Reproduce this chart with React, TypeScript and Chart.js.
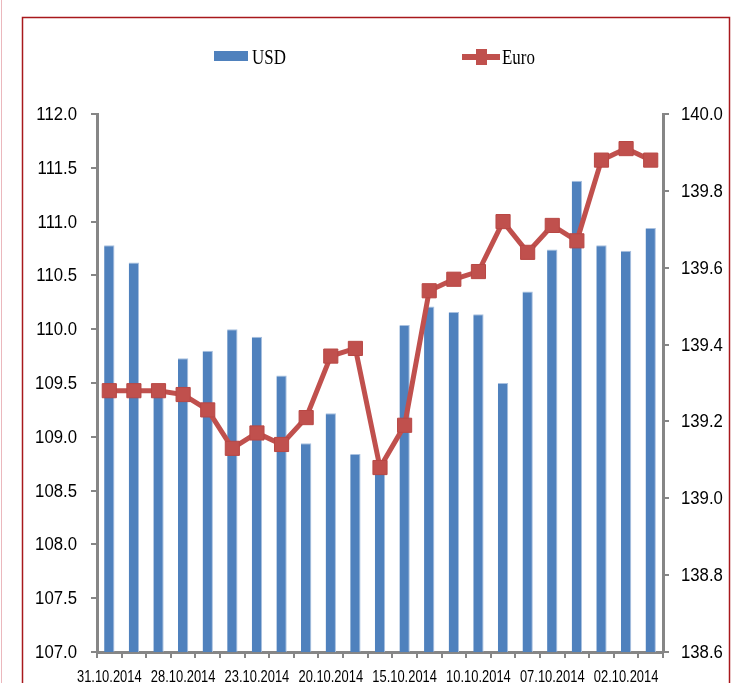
import React, { useEffect, useRef } from "react";
import { Chart, registerables } from "chart.js";

Chart.register(...registerables);

const dates = [
  "31.10.2014", "30.10.2014", "29.10.2014", "28.10.2014", "27.10.2014",
  "24.10.2014", "23.10.2014", "22.10.2014", "21.10.2014", "20.10.2014",
  "17.10.2014", "16.10.2014", "15.10.2014", "14.10.2014", "13.10.2014",
  "10.10.2014", "09.10.2014", "08.10.2014", "07.10.2014", "06.10.2014",
  "03.10.2014", "02.10.2014", "01.10.2014",
];

const usdValues = [
  110.78, 110.62, 109.45, 109.73, 109.8, 110.0, 109.93, 109.57, 108.94, 109.22,
  108.84, 108.7, 110.04, 110.21, 110.16, 110.14, 109.5, 110.35, 110.74, 111.38,
  110.78, 110.73, 110.94,
];

const euroValues = [
  139.28, 139.28, 139.28, 139.27, 139.23, 139.13, 139.17, 139.14, 139.21, 139.37,
  139.39, 139.08, 139.19, 139.54, 139.57, 139.59, 139.72, 139.64, 139.71, 139.67,
  139.88, 139.91, 139.88,
];

const seriesNames = ["USD", "Euro"];

const BLUE = "#4F81BD";
const RED = "#C0504D";
const AXIS = "#868686";
const SANS = "'Liberation Sans', Arial, sans-serif";
const SERIF = "'Liberation Serif', 'DejaVu Serif', serif";

function drawScaled(ctx: CanvasRenderingContext2D, text: string, x: number, y: number, sx: number, align: CanvasTextAlign) {
  ctx.save();
  ctx.translate(x, y);
  ctx.scale(sx, 1);
  ctx.textAlign = align;
  ctx.fillText(text, 0, 0);
  ctx.restore();
}

const framePlugin = {
  id: "frame",
  beforeDraw(chart: any) {
    const ctx = chart.ctx;
    ctx.save();
    ctx.fillStyle = "#ffffff";
    ctx.fillRect(0, 0, chart.width, chart.height);
    ctx.strokeStyle = "#EBB8BD";
    ctx.lineWidth = 1;
    ctx.beginPath();
    ctx.moveTo(1.5, 0);
    ctx.lineTo(1.5, chart.height);
    ctx.stroke();
    ctx.strokeStyle = "#A8181C";
    ctx.lineWidth = 1.5;
    ctx.strokeRect(22.5, 17.5, 707, chart.height + 20);
    ctx.restore();
  },
  afterDraw(chart: any) {
    const ctx: CanvasRenderingContext2D = chart.ctx;
    ctx.save();
    ctx.fillStyle = "#000";

    // tick labels
    const ys = chart.scales.y;
    const y1s = chart.scales.y1;
    const xs = chart.scales.x;
    ctx.font = `18px ${SANS}`;
    ctx.textBaseline = "middle";
    ys.ticks.forEach((t: any) => {
      drawScaled(ctx, Number(t.value).toFixed(1), 77, ys.getPixelForValue(t.value) + 1, 0.93, "right");
    });
    y1s.ticks.forEach((t: any) => {
      drawScaled(ctx, Number(t.value).toFixed(1), 681, y1s.getPixelForValue(t.value) + 1, 0.93, "left");
    });
    ctx.font = `17px ${SANS}`;
    ctx.textBaseline = "top";
    dates.forEach((d, i) => {
      if (i % 3 === 0) drawScaled(ctx, d, xs.getPixelForValue(i), 669, 0.76, "center");
    });

    // legend
    ctx.fillStyle = BLUE;
    ctx.fillRect(214, 51, 34, 10);
    ctx.strokeStyle = RED;
    ctx.lineWidth = 6;
    ctx.beginPath();
    ctx.moveTo(462, 57);
    ctx.lineTo(500, 57);
    ctx.stroke();
    ctx.fillStyle = RED;
    ctx.fillRect(476, 49, 11, 16);
    ctx.fillStyle = "#000";
    ctx.font = `22px ${SERIF}`;
    ctx.textBaseline = "alphabetic";
    drawScaled(ctx, seriesNames[0], 252, 64, 0.77, "left");
    drawScaled(ctx, seriesNames[1], 502, 64, 0.77, "left");
    ctx.restore();
  },
};

export default function App() {
  const ref = useRef<HTMLCanvasElement>(null);

  useEffect(() => {
    if (!ref.current) return;
    const hidden = "rgba(0,0,0,0)";
    const chart = new Chart(ref.current, {
      type: "bar",
      data: {
        labels: dates,
        datasets: [
          {
            type: "line",
            label: seriesNames[1],
            data: euroValues,
            yAxisID: "y1",
            borderColor: RED,
            borderWidth: 5,
            pointStyle: "rect",
            pointRadius: 10,
            pointBackgroundColor: RED,
            pointBorderColor: "#B84744",
            pointBorderWidth: 1,
            order: 0,
          } as any,
          {
            type: "bar",
            label: seriesNames[0],
            data: usdValues,
            yAxisID: "y",
            backgroundColor: BLUE,
            borderColor: "#A9C1E0",
            borderWidth: { left: 0, right: 1, top: 1, bottom: 0 },
            barPercentage: 0.42,
            categoryPercentage: 1,
            order: 1,
          } as any,
        ],
      },
      options: {
        responsive: false,
        animation: false,
        devicePixelRatio: 1,
        layout: { padding: { top: 114, left: 0, right: 0, bottom: 0 } },
        plugins: { legend: { display: false }, tooltip: { enabled: false } },
        scales: {
          x: {
            offset: true,
            grid: {
              offset: true,
              drawOnChartArea: false,
              tickLength: 6,
              color: AXIS,
              lineWidth: 2,
            },
            border: { display: true, color: AXIS, width: 3 },
            ticks: {
              autoSkip: false,
              maxRotation: 0,
              minRotation: 0,
              color: hidden,
              font: { size: 10 },
              callback: (_v: any, i: number) => (i % 3 === 0 ? dates[i] : ""),
            },
            afterFit: (s: any) => {
              s.height = 48;
            },
          },
          y: {
            position: "left",
            min: 107,
            max: 112,
            grid: { drawOnChartArea: false, tickLength: 6, color: AXIS, lineWidth: 2 },
            border: { display: true, color: AXIS, width: 3 },
            ticks: {
              stepSize: 0.5,
              color: hidden,
              callback: (v: any) => Number(v).toFixed(1),
            },
            afterFit: (s: any) => {
              s.width = 97;
            },
          },
          y1: {
            position: "right",
            min: 138.6,
            max: 140.0,
            grid: { drawOnChartArea: false, tickLength: 6, color: AXIS, lineWidth: 2 },
            border: { display: true, color: AXIS, width: 3 },
            ticks: {
              stepSize: 0.2,
              color: hidden,
              callback: (v: any) => Number(v).toFixed(1),
            },
            afterFit: (s: any) => {
              s.width = 72;
            },
          },
        },
      },
      plugins: [framePlugin],
    });
    return () => chart.destroy();
  }, []);

  return (
    <div style={{ position: "absolute", left: 0, top: 0, width: 735, height: 700 }}>
      <canvas ref={ref} width={735} height={700} style={{ width: 735, height: 700 }} />
    </div>
  );
}
